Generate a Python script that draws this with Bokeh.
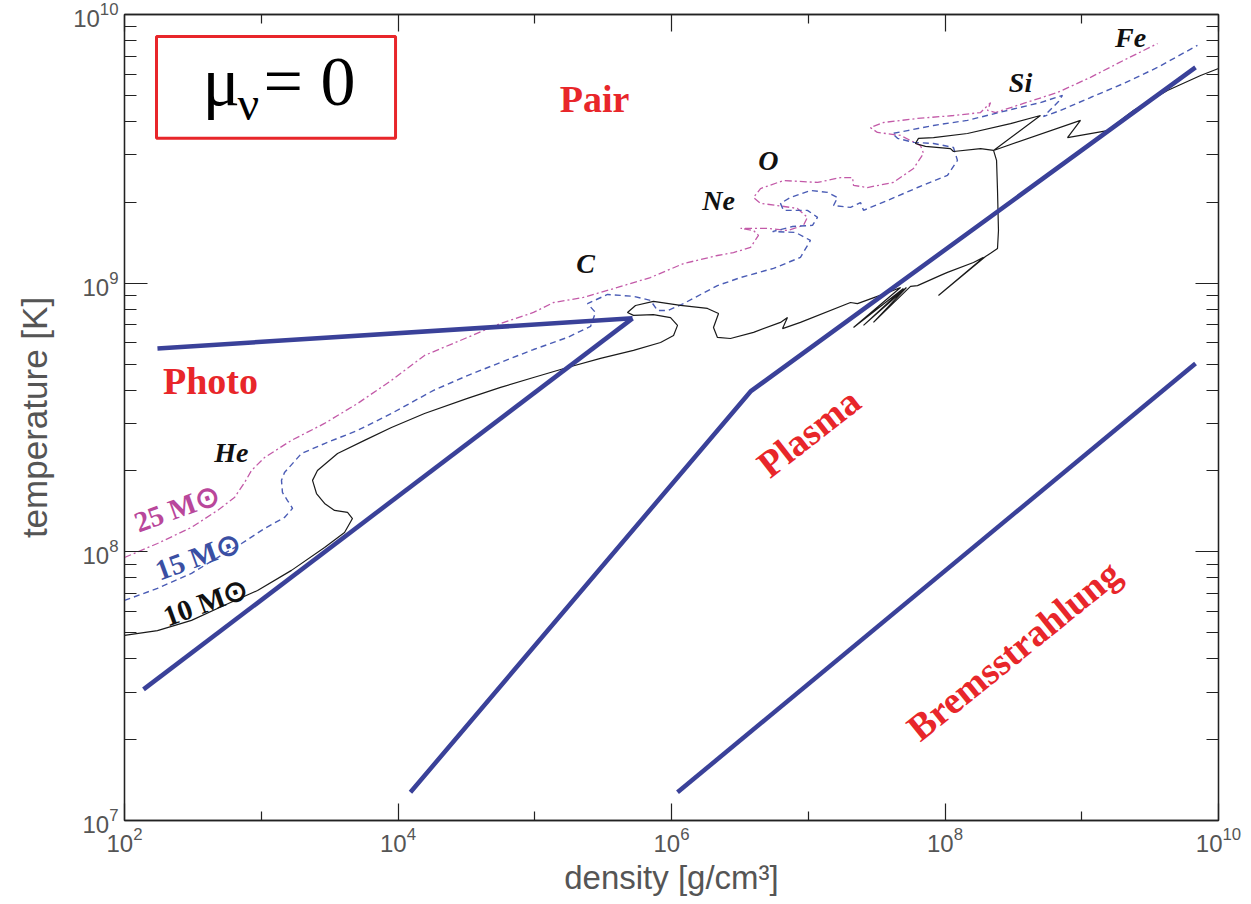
import numpy as np
from bokeh.plotting import figure
from bokeh.models import Range1d, FixedTicker, LogAxis, CustomJSTickFormatter, LogTickFormatter, BoxAnnotation
from bokeh.core.properties import value
from bokeh.embed import file_html
from bokeh.resources import INLINE

# ---------------- data (log10 density, log10 temperature) ----------------
# 10 Msun track (solid black)
m10_log_rho = [2.000, 2.241, 2.490, 2.731, 2.973, 3.221, 3.463, 3.609, 3.667, 3.631,
               3.536, 3.463, 3.404, 3.375, 3.411, 3.558, 3.755, 3.952, 4.194, 4.508,
               4.750, 4.991, 5.239, 5.481, 5.722, 5.920, 6.015, 6.044, 5.993, 5.868,
               5.722, 5.678, 5.737, 5.868, 6.066, 6.263, 6.344, 6.307, 6.336, 6.431,
               6.600, 6.797, 6.848, 6.812, 6.943, 7.309, 7.360, 7.580, 7.675, 7.331,
               7.696, 7.404, 7.718, 7.477, 7.748, 7.799, 7.967, 8.018, 8.208, 8.282,
               7.952, 8.296, 8.333, 8.384, 8.391, 8.384, 8.377, 8.355, 8.260, 8.062,
               8.040, 7.857, 7.784, 7.806, 7.916, 8.164, 8.479, 8.698, 8.355, 8.991,
               8.896, 9.188, 9.378, 9.627, 9.869, 10.0]
m10_log_T = [7.689, 7.707, 7.745, 7.801, 7.856, 7.931, 8.016, 8.072, 8.124, 8.147,
             8.154, 8.180, 8.217, 8.266, 8.303, 8.366, 8.415, 8.463, 8.515, 8.571,
             8.612, 8.649, 8.686, 8.720, 8.750, 8.779, 8.805, 8.843, 8.872, 8.883,
             8.880, 8.891, 8.917, 8.932, 8.917, 8.906, 8.887, 8.835, 8.798, 8.794,
             8.817, 8.854, 8.872, 8.831, 8.854, 8.928, 8.924, 8.965, 8.984, 8.835,
             8.980, 8.843, 8.984, 8.854, 8.988, 8.991, 9.029, 9.040, 9.077, 9.096,
             8.954, 9.099, 9.111, 9.129, 9.196, 9.345, 9.457, 9.494, 9.501, 9.490,
             9.501, 9.509, 9.520, 9.539, 9.542, 9.557, 9.594, 9.624, 9.494, 9.606,
             9.542, 9.568, 9.643, 9.717, 9.773, 9.799]

# 15 Msun track (dashed blue)
m15_log_rho = [2.000, 2.241, 2.490, 2.731, 2.856, 3.024, 3.170, 3.229, 3.192, 3.155,
               3.148, 3.170, 3.294, 3.463, 3.704, 3.952, 4.260, 4.508, 4.750, 4.991,
               5.239, 5.408, 5.444, 5.386, 5.532, 5.722, 5.846, 5.898, 5.971, 6.088,
               6.336, 6.505, 6.746, 6.943, 7.016, 6.907, 6.739, 6.885, 7.031, 7.068,
               6.994, 6.819, 6.797, 6.870, 7.016, 7.141, 7.214, 7.185, 7.309, 7.382,
               7.404, 7.580, 7.799, 8.018, 8.091, 8.062, 7.916, 7.770, 7.653, 7.616,
               7.726, 7.916, 8.164, 8.457, 8.698, 8.859, 8.830, 8.720, 8.845, 9.064,
               9.305, 9.554, 9.846]
m15_log_T = [7.819, 7.864, 7.920, 7.994, 8.031, 8.087, 8.128, 8.162, 8.191, 8.221,
             8.266, 8.295, 8.366, 8.403, 8.452, 8.515, 8.601, 8.656, 8.705, 8.753,
             8.798, 8.839, 8.891, 8.924, 8.958, 8.951, 8.936, 8.898, 8.898, 8.924,
             8.991, 9.021, 9.055, 9.096, 9.159, 9.189, 9.192, 9.211, 9.215, 9.245,
             9.271, 9.271, 9.297, 9.319, 9.345, 9.338, 9.319, 9.289, 9.282, 9.300,
             9.271, 9.308, 9.356, 9.401, 9.457, 9.505, 9.520, 9.524, 9.539, 9.557,
             9.568, 9.587, 9.606, 9.643, 9.672, 9.699, 9.676, 9.620, 9.643, 9.691,
             9.743, 9.803, 9.885]

# 25 Msun track (dash-dot magenta)
m25_log_rho = [2.000, 2.241, 2.490, 2.680, 2.804, 2.878, 2.929, 3.024, 3.221, 3.463,
               3.704, 3.952, 4.194, 4.508, 4.750, 4.991, 5.137, 5.356, 5.605, 5.846,
               6.088, 6.336, 6.453, 6.578, 6.636, 6.600, 6.505, 6.702, 6.848, 6.965,
               6.994, 6.921, 6.775, 6.651, 6.600, 6.651, 6.819, 7.068, 7.236, 7.324,
               7.331, 7.433, 7.623, 7.770, 7.843, 7.821, 7.675, 7.506, 7.455, 7.550,
               7.799, 8.062, 8.260, 8.333, 8.311, 8.369, 8.574, 8.823, 9.064, 9.305,
               9.554]
m25_log_T = [7.979, 8.031, 8.091, 8.154, 8.202, 8.258, 8.303, 8.351, 8.415, 8.478,
             8.552, 8.638, 8.731, 8.798, 8.850, 8.891, 8.928, 8.947, 8.984, 9.021,
             9.073, 9.103, 9.114, 9.133, 9.178, 9.196, 9.204, 9.204, 9.196, 9.215,
             9.245, 9.278, 9.289, 9.297, 9.319, 9.352, 9.382, 9.375, 9.393, 9.393,
             9.364, 9.356, 9.375, 9.427, 9.483, 9.512, 9.550, 9.561, 9.579, 9.598,
             9.613, 9.624, 9.635, 9.672, 9.643, 9.635, 9.669, 9.710, 9.766, 9.829,
             9.892]

# regime boundaries
photo_pair_log_rho = [2.241, 5.715]
photo_pair_log_T = [8.757, 8.869]
photo_plasma_log_rho = [5.715, 2.139]
photo_plasma_log_T = [8.869, 7.488]
pair_plasma_log_rho = [4.091, 6.578, 9.832]
pair_plasma_log_T = [7.105, 8.597, 9.803]
plasma_brems_log_rho = [6.044, 9.832]
plasma_brems_log_T = [7.105, 8.701]

# region labels
region_names = ["Pair", "Photo", "Plasma", "Bremsstrahlung"]
region_log_rho = [5.437, 2.629, 7.002, 8.501]
region_log_T = [9.687, 8.634, 8.444, 7.633]
region_angle_deg = [0, 0, 38, 39]

# burning-stage labels
stage_names = ["He", "C", "Ne", "O", "Si", "Fe"]
stage_log_rho = [2.782, 5.371, 6.344, 6.709, 8.552, 9.357]
stage_log_T = [8.370, 9.073, 9.308, 9.457, 9.747, 9.914]

# mass labels
mass_names = ["25 M\u2299", "15 M\u2299", "10 M\u2299"]
mass_log_rho = [2.380, 2.534, 2.592]
mass_log_T = [8.162, 7.983, 7.812]
mass_colors = ["#b9479b", "#3a4fa3", "#111111"]

x_major = [1e2, 1e4, 1e6, 1e8, 1e10]
x_minor = [1e3, 1e5, 1e7, 1e9]
y_major = [1e7, 1e8, 1e9, 1e10]
y_minor = [m * 10.0 ** e for e in (7, 8, 9) for m in range(2, 10)]

def d(a):
    return 10.0 ** np.array(a)

# ---------------- figure ----------------
p = figure(width=1243, height=898, x_axis_type="log", y_axis_type="log",
           x_range=Range1d(1e2, 1e10), y_range=Range1d(1e7, 1e10),
           output_backend="svg", toolbar_location=None,
           min_border_left=124, min_border_right=25, min_border_top=14, min_border_bottom=78)
p.grid.visible = False
p.outline_line_color = "#222222"
p.outline_line_width = 1.3
p.background_fill_color = "white"
p.border_fill_color = "white"

blank = CustomJSTickFormatter(code="return '';")

def style_axis(ax, major, minor, tin, min_in, labels=True):
    ax.ticker = FixedTicker(ticks=major, minor_ticks=minor)
    ax.formatter = LogTickFormatter() if labels else blank
    ax.major_tick_in = tin
    ax.major_tick_out = 0
    ax.minor_tick_in = min_in
    ax.minor_tick_out = 0
    ax.axis_line_color = "#222222"
    ax.axis_line_width = 1.3
    ax.major_tick_line_color = "#222222"
    ax.minor_tick_line_color = "#222222"
    ax.major_tick_line_width = 1.2
    ax.minor_tick_line_width = 1.2
    ax.major_label_text_font = "Liberation Sans"
    ax.major_label_text_color = "#555555"
    ax.major_label_text_font_size = "24px"
    ax.major_label_standoff = 6 if labels else 0
    ax.axis_label_text_font = "Liberation Sans"
    ax.axis_label_text_font_style = "normal"
    ax.axis_label_text_color = "#555555"
    ax.axis_label_text_font_size = "31px"

style_axis(p.xaxis[0], x_major, x_minor, 17, 9)
style_axis(p.yaxis[0], y_major, y_minor, 23, 12)
p.xaxis.axis_label = "density [g/cm\u00b3]"
p.yaxis.axis_label = "temperature [K]"
p.xaxis.axis_label_text_font_size = "33px"
p.yaxis.axis_label_text_font_size = "35px"
p.xaxis.axis_label_standoff = 4
p.yaxis.axis_label_standoff = 16

top = LogAxis()
style_axis(top, x_major, x_minor, 17, 9, labels=False)
p.add_layout(top, "above")
right = LogAxis()
style_axis(right, y_major, y_minor, 23, 12, labels=False)
p.add_layout(right, "right")

# tracks
p.line(d(m25_log_rho), d(m25_log_T), line_color="#c35aa8", line_width=1.3, line_dash="7 3 2 3")
p.line(d(m15_log_rho), d(m15_log_T), line_color="#4a5cb5", line_width=1.4, line_dash="6 4")
p.line(d(m10_log_rho), d(m10_log_T), line_color="#1a1a1a", line_width=1.2)

# regime boundaries
blue = "#3a4199"
for xs, ys in [(photo_pair_log_rho, photo_pair_log_T), (photo_plasma_log_rho, photo_plasma_log_T),
               (pair_plasma_log_rho, pair_plasma_log_T), (plasma_brems_log_rho, plasma_brems_log_T)]:
    p.line(d(xs), d(ys), line_color=blue, line_width=4.5)

# region labels
for name, xr, yt, ang in zip(region_names, region_log_rho, region_log_T, region_angle_deg):
    p.text(x=[10 ** xr], y=[10 ** yt], text=[name], angle=ang, angle_units="deg",
           text_font=value("Liberation Serif"), text_font_style="bold", text_font_size="38px",
           text_color="#e8262a", text_align="center", text_baseline="middle")

# stage labels
p.text(x=d(stage_log_rho), y=d(stage_log_T), text=stage_names,
       text_font=value("Liberation Serif"), text_font_style="bold italic", text_font_size="28px",
       text_color="#111111", text_align="center", text_baseline="middle")

# mass labels
p.text(x=d(mass_log_rho), y=d(mass_log_T), text=mass_names, angle=20, angle_units="deg",
       text_font=value("Liberation Serif"), text_font_style="bold", text_font_size="29px",
       text_color=mass_colors, text_align="center", text_baseline="middle")

# mu_nu = 0 box
box_left, box_right, box_bottom, box_top = 10 ** 2.234, 10 ** 3.982, 10 ** 9.539, 10 ** 9.918
p.add_layout(BoxAnnotation(left=box_left, right=box_right, bottom=box_bottom, top=box_top,
                           fill_color=None, line_color="#e8262a", line_alpha=1.0, line_width=3))
p.text(x=[10 ** 2.570], y=[10 ** 9.751], text=["\u03bc"], text_font=value("Liberation Serif"),
       text_font_size="70px", text_color="black", text_align="left", text_baseline="alphabetic")
p.text(x=[10 ** 2.826], y=[10 ** 9.669], text=["\u03bd"], text_font=value("Liberation Serif"),
       text_font_size="48px", text_color="black", text_align="left", text_baseline="alphabetic")
p.text(x=[10 ** 3.016], y=[10 ** 9.751], text=["= 0"], text_font=value("Liberation Serif"),
       text_font_size="70px", text_color="black", text_align="left", text_baseline="alphabetic")

open("out.html", "w").write(file_html(p, INLINE))
